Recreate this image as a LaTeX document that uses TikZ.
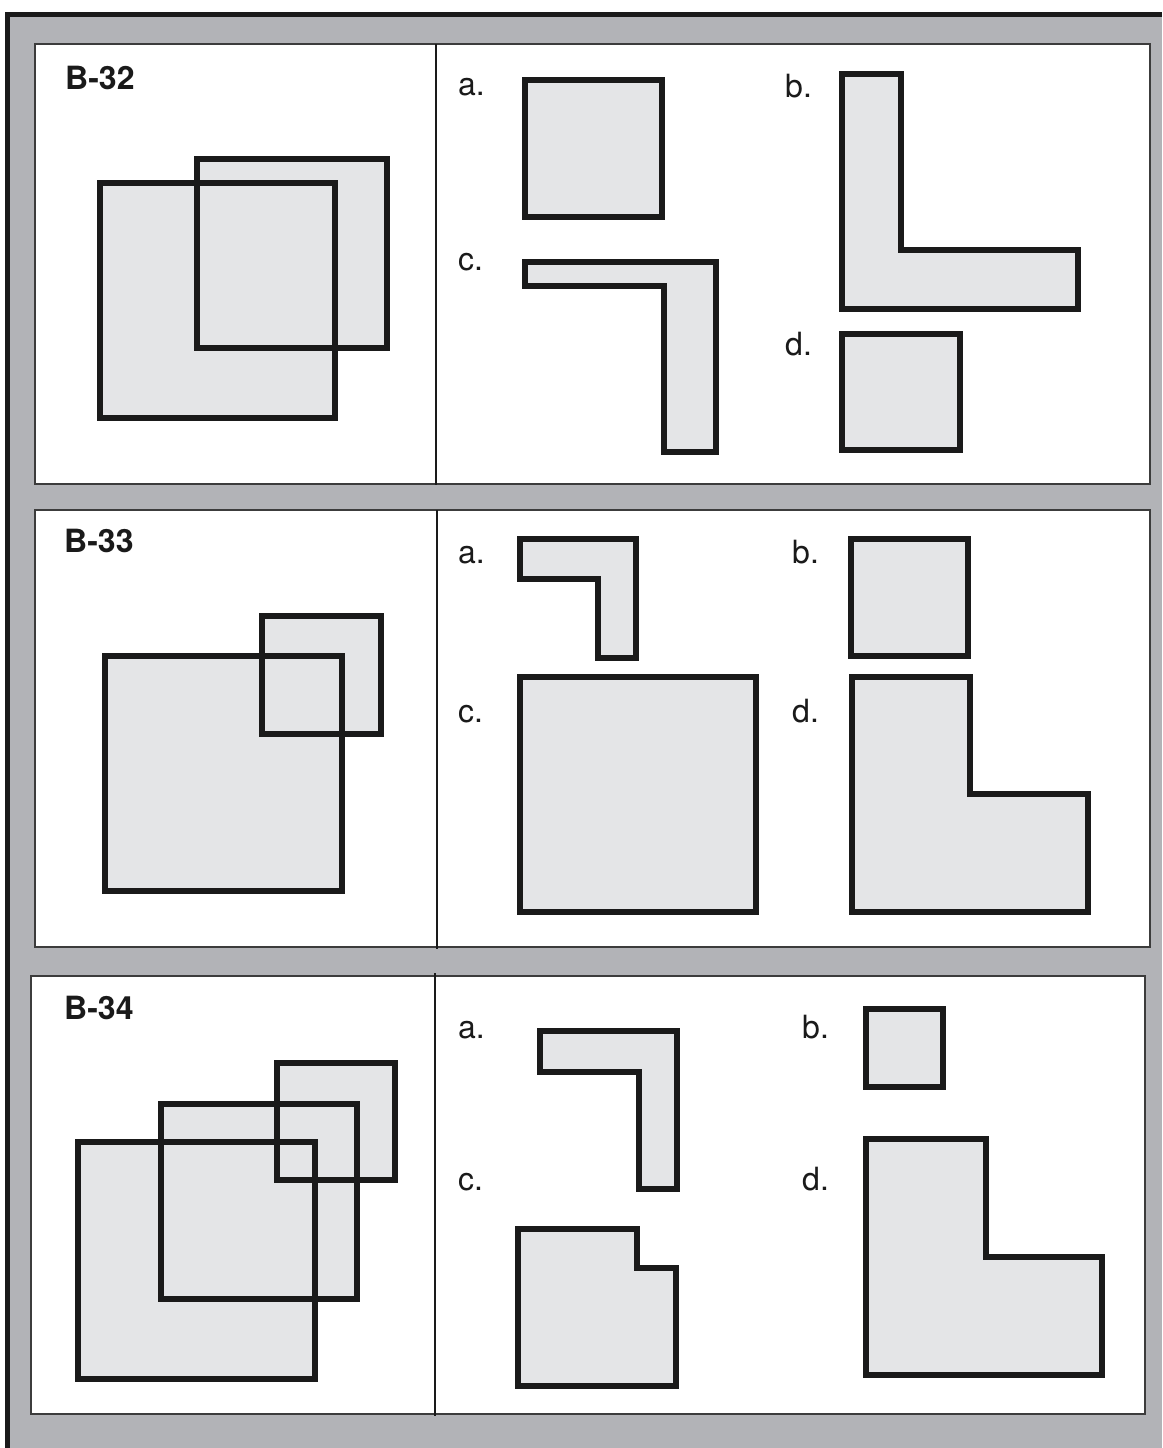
\documentclass[tikz,border=0pt]{standalone}
\usepackage{fontspec}
\setmainfont{TeX Gyre Heros}
\definecolor{framegray}{HTML}{B2B3B7}
\definecolor{shapefill}{HTML}{E4E5E7}
\definecolor{ink}{HTML}{1A1A1A}
\begin{document}
\begin{tikzpicture}[x=1pt,y=-1pt,
  piece/.style={fill=shapefill,draw=ink,line width=5.3pt,line join=miter},
  ovl/.style={draw=ink,line width=5.3pt,line join=miter},
  panelbox/.style={fill=white,draw=ink!85,line width=2pt},
  divider/.style={draw=ink,line width=2pt},
  idlab/.style={anchor=base west,inner sep=0pt,font=\fontsize{32}{32}\selectfont\bfseries,text=ink},
  optlab/.style={anchor=base west,inner sep=0pt,font=\fontsize{32}{32}\selectfont,text=ink}]
\useasboundingbox (0,0) rectangle (1162,1448);
\fill[white] (0,0) rectangle (1162,1448);
\fill[framegray] (7,14) rectangle (1162,1448);
\draw[ink,line width=5pt] (7,1448) -- (7,14) -- (1162,14);

% ---------- Panel B-32 ----------
\draw[panelbox] (35,44) rectangle (1150,484);
\draw[divider] (436,44) -- (436,485);
\node[idlab] (id32) at (65,89) {B-32};
\path[piece] (100,183) rectangle (335,418);
\path[piece] (197,159) rectangle (387,348);
\draw[ovl] (100,183) rectangle (335,418);
\node[optlab] (a32) at (458,95) {a.};
\node[optlab] (b32) at (785,97) {b.};
\node[optlab] (c32) at (458,270) {c.};
\node[optlab] (d32) at (785,355) {d.};
\path[piece] (525,80) rectangle (662,217);
\path[piece] (842,74) -- (901,74) -- (901,250) -- (1078,250) -- (1078,309) -- (842,309) -- cycle;
\path[piece] (525,262) -- (716,262) -- (716,452) -- (664,452) -- (664,286) -- (525,286) -- cycle;
\path[piece] (842,334) rectangle (960,450);

% ---------- Panel B-33 ----------
\draw[panelbox] (35,510) rectangle (1150,947);
\draw[divider] (437,510) -- (437,949);
\node[idlab] (id33) at (64,552) {B-33};
\path[piece] (105,656) rectangle (342,891);
\path[piece] (262,616) rectangle (381,734);
\draw[ovl] (105,656) rectangle (342,891);
\node[optlab] (a33) at (458,563) {a.};
\node[optlab] (b33) at (792,563) {b.};
\node[optlab] (c33) at (458,722) {c.};
\node[optlab] (d33) at (792,722) {d.};
\path[piece] (520,539) -- (636,539) -- (636,658) -- (598,658) -- (598,579) -- (520,579) -- cycle;
\path[piece] (851,539) rectangle (968,656);
\path[piece] (520,677) rectangle (756,912);
\path[piece] (852,677) -- (970,677) -- (970,794) -- (1088,794) -- (1088,912) -- (852,912) -- cycle;

% ---------- Panel B-34 ----------
\draw[panelbox] (31,976) rectangle (1145,1414);
\draw[divider] (435,973) -- (435,1416);
\node[idlab] (id34) at (64,1019) {B-34};
\path[piece] (78,1142) rectangle (315,1379);
\path[piece] (161,1104) rectangle (357,1299);
\path[piece] (277,1063) rectangle (395,1180);
\draw[ovl] (78,1142) rectangle (315,1379);
\draw[ovl] (161,1104) rectangle (357,1299);
\node[optlab] (a34) at (458,1038) {a.};
\node[optlab] (b34) at (802,1038) {b.};
\node[optlab] (c34) at (458,1190) {c.};
\node[optlab] (d34) at (802,1190) {d.};
\path[piece] (540,1031) -- (677,1031) -- (677,1189) -- (639,1189) -- (639,1072) -- (540,1072) -- cycle;
\path[piece] (866,1009) rectangle (943,1087);
\path[piece] (518,1229) -- (637,1229) -- (637,1268) -- (676,1268) -- (676,1386) -- (518,1386) -- cycle;
\path[piece] (866,1139) -- (986,1139) -- (986,1257) -- (1102,1257) -- (1102,1375) -- (866,1375) -- cycle;
\end{tikzpicture}
\end{document}
